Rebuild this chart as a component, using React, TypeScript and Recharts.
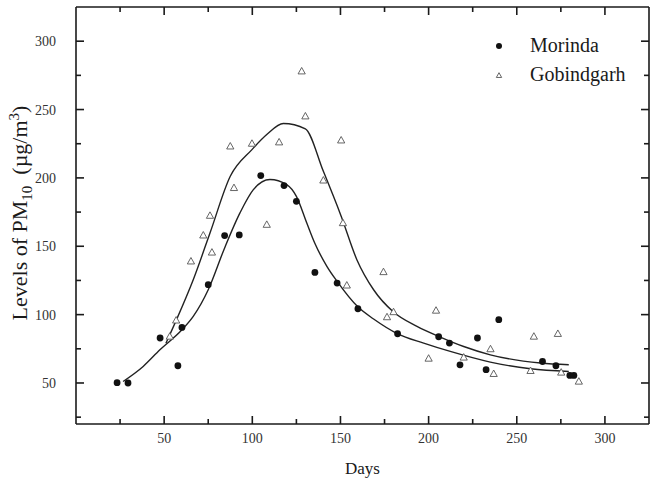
import React from "react";
import { ComposedChart, Scatter, Line, XAxis, YAxis, Legend } from "recharts";

const SERIF = "'Liberation Serif', 'Times New Roman', serif";
const INK = "#1a1a1a";

// measured points
const morindaDays = [23.3, 29.5, 47.7, 57.8, 60.1, 75, 84.3, 92.6, 104.8, 118, 125, 135.5, 148.1, 159.9, 182.4, 205.7, 211.8, 217.8, 227.7, 232.6, 239.8, 264.6, 272.2, 280.1, 282.4];
const morindaPm = [50.2, 50, 82.9, 62.6, 90.6, 121.9, 157.8, 158.3, 201.7, 194.4, 182.9, 130.9, 123.1, 104.3, 86, 83.8, 79.2, 63.3, 82.9, 59.7, 96.3, 65.7, 62.6, 55.5, 55.5];

const gobindDays = [53.2, 56.8, 65.2, 72.2, 76, 77.1, 87.5, 89.6, 99.8, 108.2, 115.2, 128, 130.1, 140.3, 150.4, 151.4, 153.6, 174.4, 176.4, 180.1, 200, 204.2, 219.9, 235.1, 236.9, 257.8, 259.7, 273.3, 275.2, 285.2];
const gobindPm = [84, 95.8, 139, 158, 172.4, 145.5, 223.1, 192.7, 225.1, 165.8, 226.1, 278, 245.1, 198.2, 227.5, 167, 121.4, 131.2, 98.2, 101.9, 67.9, 103, 68.7, 74.8, 56.7, 58.9, 84, 86, 57.7, 51.1];

// fitted curves
const morindaFitDays = [26.7, 38.1, 47.6, 60.1, 66.5, 75, 84.3, 93, 100.6, 110, 119.5, 125, 130.9, 135.4, 142.3, 148.1, 160, 168.8, 182.4, 197.2, 212.3, 235, 257.8, 279.5];
const morindaFitPm = [51.1, 62.1, 74.3, 88.9, 98.7, 118.2, 148.8, 174.4, 191.4, 198.8, 195.1, 186.5, 167, 152.4, 135.3, 124.3, 105.5, 96.8, 86, 79.2, 73.1, 65.3, 60.4, 58.4];

const gobindFitDays = [51, 53.2, 57, 66.5, 76, 87.5, 99.8, 108.2, 117.6, 130.1, 140.3, 150.4, 159.3, 168.8, 180.1, 193.4, 206.6, 219.9, 235, 263.5, 279.5];
const gobindFitPm = [79, 85.3, 96.3, 125.5, 159.7, 201.2, 220.7, 231.7, 239.8, 235.9, 204.8, 172, 140.2, 118.2, 101.9, 91.4, 83.6, 76.7, 70.6, 64.6, 63.3];

// every 25 gets a tick, every 50 a long one with a label
const dayTicks = [25, 50, 75, 100, 125, 150, 175, 200, 225, 250, 275, 300];
const pmTicks = [25, 50, 75, 100, 125, 150, 175, 200, 225, 250, 275, 300];

const DAY_MIN = 0;
const DAY_MAX = 325;
const PM_MIN = 20;
const PM_MAX = 325;

const zip = (xs: number[], ys: number[]) => xs.map((day, i) => ({ day, pm: ys[i] }));

const morinda = zip(morindaDays, morindaPm);
const gobind = zip(gobindDays, gobindPm);
const morindaFit = zip(morindaFitDays, morindaFitPm);
const gobindFit = zip(gobindFitDays, gobindFitPm);

// frame edges and tick anchors, placed on the axes' own scales
const frameTop = [{ day: DAY_MIN, pm: PM_MAX }, { day: DAY_MAX, pm: PM_MAX }];
const frameRight = [{ day: DAY_MAX, pm: PM_MAX }, { day: DAY_MAX, pm: PM_MIN }];
const bottomMarks = dayTicks.map((day) => ({ day, pm: PM_MIN, v: day }));
const topMarks = dayTicks.map((day) => ({ day, pm: PM_MAX, v: day }));
const leftMarks = pmTicks.map((pm) => ({ day: DAY_MIN, pm, v: pm }));
const rightMarks = pmTicks.map((pm) => ({ day: DAY_MAX, pm, v: pm }));

const isMajor = (v: number) => v % 50 === 0;
const tickPx = (v: number) => (isMajor(v) ? 8 : 5);
const TICK_W = 1.6;

const UpTick = ({ cx, cy, payload }: any) => (
  <line x1={cx} y1={cy} x2={cx} y2={cy - tickPx(payload.v)} stroke={INK} strokeWidth={TICK_W} />
);
const DownTick = ({ cx, cy, payload }: any) => (
  <line x1={cx} y1={cy} x2={cx} y2={cy + tickPx(payload.v)} stroke={INK} strokeWidth={TICK_W} />
);
const RightwardTick = ({ cx, cy, payload }: any) => (
  <line x1={cx} y1={cy} x2={cx + tickPx(payload.v)} y2={cy} stroke={INK} strokeWidth={TICK_W} />
);
const LeftwardTick = ({ cx, cy, payload }: any) => (
  <line x1={cx} y1={cy} x2={cx - tickPx(payload.v)} y2={cy} stroke={INK} strokeWidth={TICK_W} />
);

function BottomLabel({ x, y, payload }: any) {
  if (!isMajor(payload.value)) return <g />;
  return (
    <text x={x} y={y + 19} textAnchor="middle" fontSize={14} fontFamily={SERIF} fill="#333">
      {payload.value}
    </text>
  );
}

function LeftLabel({ x, y, payload }: any) {
  if (!isMajor(payload.value)) return <g />;
  return (
    <text x={x - 20} y={y + 5} textAnchor="end" fontSize={14} fontFamily={SERIF} fill="#333">
      {payload.value}
    </text>
  );
}

const DotShape = ({ cx, cy }: any) => <circle cx={cx} cy={cy} r={3.4} fill="#111" />;

const triPoints = (cx: number, cy: number, s: number) =>
  `${cx},${cy - s} ${cx + s * 0.95},${cy + s * 0.7} ${cx - s * 0.95},${cy + s * 0.7}`;

const TriShape = ({ cx, cy }: any) => (
  <polygon points={triPoints(cx, cy, 3.8)} fill="#fff" stroke="#555" strokeWidth={0.9} />
);

// fixed position label, ignores the props recharts passes in
const YLabel = () => (
  <text transform="translate(27 213) rotate(-90)" textAnchor="middle" fontSize={22} fontFamily={SERIF} fill={INK}>
    Levels of PM
    <tspan fontSize={15} dy={5}>10</tspan>
    <tspan dy={-5}>{"\u00a0\u00a0(\u00b5g/m"}</tspan>
    <tspan fontSize={15} dy={-8}>3</tspan>
    <tspan dy={8}>)</tspan>
  </text>
);

const legendItems = [
  { name: "Morinda", kind: "dot" },
  { name: "Gobindgarh", kind: "tri" },
];

const renderLegend = () => (
  <div style={{ fontFamily: SERIF, fontSize: 20, color: INK }}>
    {legendItems.map((item) => (
      <div key={item.name} style={{ display: "flex", alignItems: "center", height: 29 }}>
        <svg width={42} height={12}>
          {item.kind === "dot" ? (
            <circle cx={11} cy={6} r={3} fill="#111" />
          ) : (
            <polygon points={triPoints(11, 6.5, 2.8)} fill="#fff" stroke="#555" strokeWidth={0.9} />
          )}
        </svg>
        <span>{item.name}</span>
      </div>
    ))}
  </div>
);

const markProps = { xAxisId: "b", yAxisId: "l", legendType: "none" as const, isAnimationActive: false };

export default function App() {
  return (
    <div style={{ position: "absolute", left: 0, top: 0, width: 657, height: 490, background: "#fff" }}>
      <ComposedChart width={657} height={490} margin={{ top: 7, right: 8, bottom: 0, left: 0 }}>
        <XAxis
          xAxisId="b"
          dataKey="day"
          type="number"
          domain={[DAY_MIN, DAY_MAX]}
          ticks={dayTicks}
          interval={0}
          height={66}
          tickSize={0}
          tickMargin={0}
          tickLine={false}
          tick={<BottomLabel />}
          axisLine={{ stroke: INK, strokeWidth: 1.6 }}
          label={{ value: "Days", position: "insideBottom", offset: 16, fontSize: 17, fontFamily: SERIF, fill: INK }}
        />
        <YAxis
          yAxisId="l"
          dataKey="pm"
          type="number"
          domain={[PM_MIN, PM_MAX]}
          ticks={pmTicks}
          interval={0}
          width={76}
          tickSize={0}
          tickMargin={0}
          tickLine={false}
          tick={<LeftLabel />}
          axisLine={{ stroke: INK, strokeWidth: 1.6 }}
          label={<YLabel />}
        />

        {/* top and right edges of the frame */}
        <Line {...markProps} data={frameTop} dataKey="pm" type="linear" stroke={INK} strokeWidth={1.6} dot={false} />
        <Line {...markProps} data={frameRight} dataKey="pm" type="linear" stroke={INK} strokeWidth={1.6} dot={false} />

        {/* inward tick marks on all four sides */}
        <Scatter {...markProps} data={bottomMarks} shape={<UpTick />} />
        <Scatter {...markProps} data={topMarks} shape={<DownTick />} />
        <Scatter {...markProps} data={leftMarks} shape={<RightwardTick />} />
        <Scatter {...markProps} data={rightMarks} shape={<LeftwardTick />} />

        <Line xAxisId="b" yAxisId="l" data={morindaFit} dataKey="pm" type="monotone" stroke="#222" strokeWidth={1.4}
          dot={false} isAnimationActive={false} legendType="none" />
        <Line xAxisId="b" yAxisId="l" data={gobindFit} dataKey="pm" type="monotone" stroke="#222" strokeWidth={1.4}
          dot={false} isAnimationActive={false} legendType="none" />
        <Scatter xAxisId="b" yAxisId="l" name="Gobindgarh" data={gobind} shape={<TriShape />} isAnimationActive={false} />
        <Scatter xAxisId="b" yAxisId="l" name="Morinda" data={morinda} shape={<DotShape />} isAnimationActive={false} />
        <Legend
          layout="vertical"
          align="center"
          verticalAlign="middle"
          content={renderLegend}
          wrapperStyle={{ position: "absolute", left: 488, top: 31, width: 160 }}
        />
      </ComposedChart>
    </div>
  );
}
